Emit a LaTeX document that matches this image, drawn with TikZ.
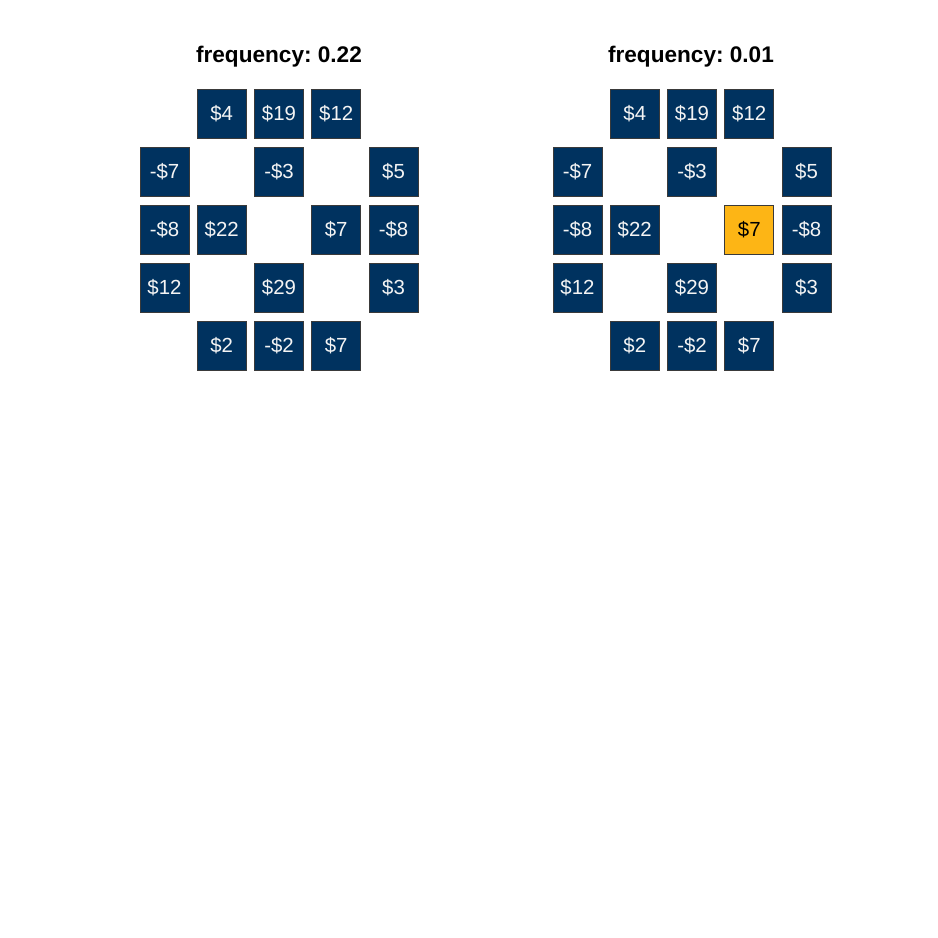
\documentclass[tikz,border=0pt]{standalone}
\usepackage{fontspec}
\setmainfont{Liberation Sans}
\usepackage{xcolor}
\definecolor{CardNavy}{HTML}{00325F}
\definecolor{CardGold}{HTML}{FDB515}
\definecolor{CardEdge}{HTML}{3A3A3A}
\definecolor{CardText}{HTML}{F4F4F4}
\usetikzlibrary{positioning}
\frenchspacing
\tikzset{
    card/.style={
        draw=CardEdge,
        fill=#1,
        line width=0.6pt,
        minimum width=49pt,
        minimum height=49pt,
        inner sep=0pt,
        text=CardText,
        font=\fontsize{20.4}{22}\selectfont,
        text height=14.7pt,
        text depth=0pt
    },
    card/.default=CardNavy,
    goldcard/.style={
        card=CardGold,
        text=black
    },
    heading/.style={
        anchor=base,
        font=\fontsize{22.6}{26}\selectfont\bfseries,
        text=black,
        inner sep=0pt
    }
}

\begin{document}
\begin{tikzpicture}[x=1pt, y=-1pt]
                \useasboundingbox (0,0) rectangle (938,938);

                % Left board
                \node[heading] (headL) at (279,62) {frequency: 0.22};
                \node[card] (L12) at (221.75,113.5) {\$4};
                \node[card] (L13) at (279,113.5) {\$19};
                \node[card] (L14) at (336.25,113.5) {\$12};
                \node[card] (L21) at (164.5,171.5) {-\$7};
                \node[card] (L23) at (279,171.5) {-\$3};
                \node[card] (L25) at (393.5,171.5) {\$5};
                \node[card] (L31) at (164.5,229.5) {-\$8};
                \node[card] (L32) at (221.75,229.5) {\$22};
                \node[card] (L34) at (336.25,229.5) {\$7};
                \node[card] (L35) at (393.5,229.5) {-\$8};
                \node[card] (L41) at (164.5,287.5) {\$12};
                \node[card] (L43) at (279,287.5) {\$29};
                \node[card] (L45) at (393.5,287.5) {\$3};
                \node[card] (L52) at (221.75,345.5) {\$2};
                \node[card] (L53) at (279,345.5) {-\$2};
                \node[card] (L54) at (336.25,345.5) {\$7};

                % Right board
                \node[heading] (headR) at (691,62) {frequency: 0.01};
                \node[card] (R12) at (634.75,113.5) {\$4};
                \node[card] (R13) at (692,113.5) {\$19};
                \node[card] (R14) at (749.25,113.5) {\$12};
                \node[card] (R21) at (577.5,171.5) {-\$7};
                \node[card] (R23) at (692,171.5) {-\$3};
                \node[card] (R25) at (806.5,171.5) {\$5};
                \node[card] (R31) at (577.5,229.5) {-\$8};
                \node[card] (R32) at (634.75,229.5) {\$22};
                \node[goldcard] (R34) at (749.25,229.5) {\$7};
                \node[card] (R35) at (806.5,229.5) {-\$8};
                \node[card] (R41) at (577.5,287.5) {\$12};
                \node[card] (R43) at (692,287.5) {\$29};
                \node[card] (R45) at (806.5,287.5) {\$3};
                \node[card] (R52) at (634.75,345.5) {\$2};
                \node[card] (R53) at (692,345.5) {-\$2};
                \node[card] (R54) at (749.25,345.5) {\$7};
            \end{tikzpicture}
\end{document}
